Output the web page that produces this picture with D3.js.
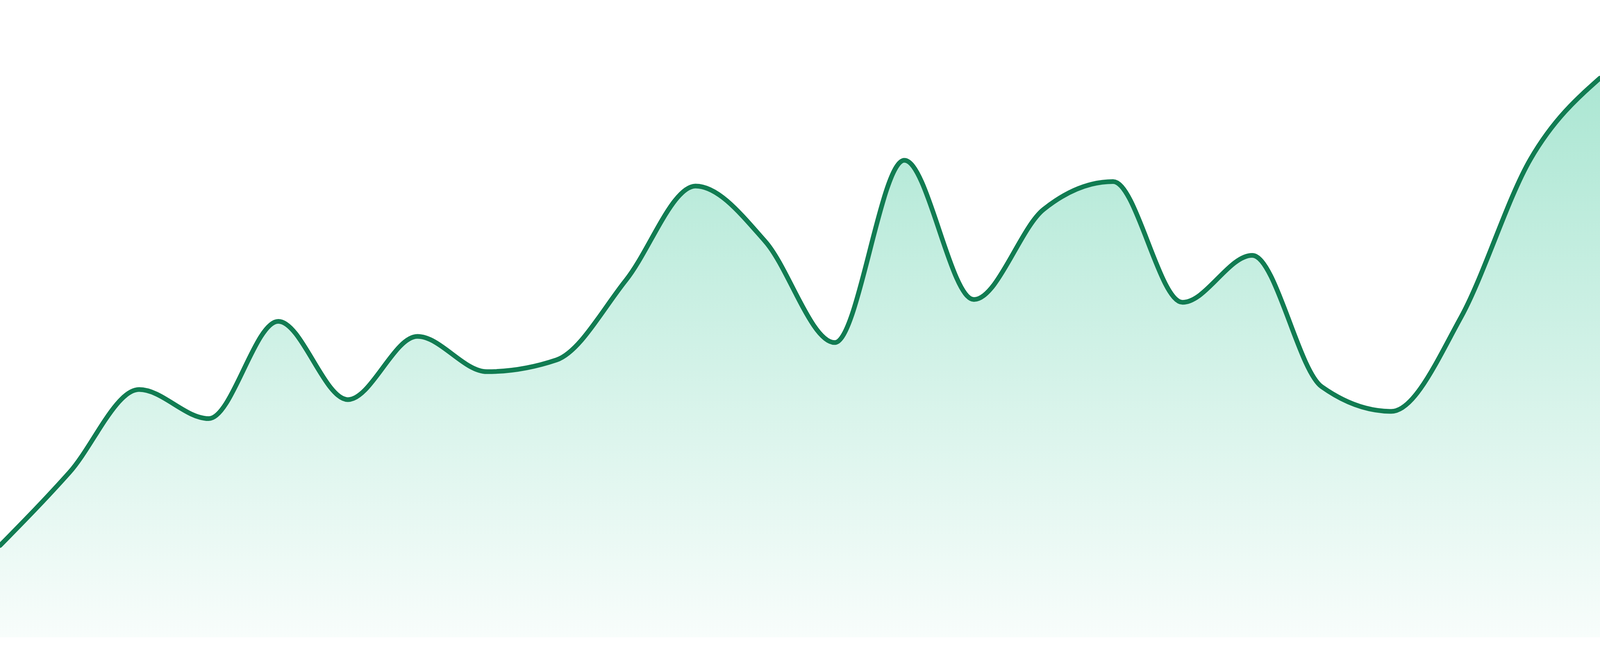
<!DOCTYPE html>
<html>
<head>
<meta charset="utf-8">
<script src="https://cdn.jsdelivr.net/npm/d3@7"></script>
<style>
  html, body { margin: 0; padding: 0; background: #ffffff; overflow: hidden; width: 100%; height: 100%; }
  svg { display: block; }
</style>
</head>
<body>
<div id="chart"></div>
<script>
// ---- data ----
const categories = [1, 2, 3, 4, 5, 6, 7, 8, 9, 10, 11, 12, 13, 14, 15, 16, 17, 18, 19, 20, 21, 22, 23, 24];
const values = [16.4, 29.5, 44.3, 39.1, 56.5, 42.5, 53.8, 47.5, 49.6, 63.9, 80.7, 70.8,
                52.7, 85.3, 60.4, 76.5, 81.5, 59.9, 68.3, 44.8, 40.4, 57.2, 85.5, 100];
const yDomain = [0, 100];

// ---- layout: fill the browser viewport ----
const width = window.innerWidth || 4800;
const height = window.innerHeight || 1680;
const margin = { top: height * 200 / 1680, right: 0, bottom: height * 48 / 1680, left: 0 };

const data = categories.map((c, i) => ({ c, v: values[i] }));

const x = d3.scalePoint()
  .domain(categories)
  .range([margin.left, width - margin.right]);

const y = d3.scaleLinear()
  .domain(yDomain)
  .range([height - margin.bottom, margin.top]);

const svg = d3.select("#chart").append("svg")
  .attr("width", width)
  .attr("height", height);

const defs = svg.append("defs");
const grad = defs.append("linearGradient")
  .attr("id", "areaGrad")
  .attr("gradientUnits", "userSpaceOnUse")
  .attr("x1", 0).attr("x2", 0)
  .attr("y1", y(yDomain[1])).attr("y2", y(0));
grad.append("stop").attr("offset", "0%").attr("stop-color", "#10b981").attr("stop-opacity", 0.35);
grad.append("stop").attr("offset", "100%").attr("stop-color", "#10b981").attr("stop-opacity", 0.03);

const area = d3.area()
  .x(d => x(d.c))
  .y0(y(0))
  .y1(d => y(d.v))
  .curve(d3.curveMonotoneX);

const line = d3.line()
  .x(d => x(d.c))
  .y(d => y(d.v))
  .curve(d3.curveMonotoneX);

svg.append("path")
  .datum(data)
  .attr("d", area)
  .attr("fill", "url(#areaGrad)");

svg.append("path")
  .datum(data)
  .attr("d", line)
  .attr("fill", "none")
  .attr("stroke", "#117c52")
  .attr("stroke-width", 12)
  .attr("stroke-linejoin", "round")
  .attr("stroke-linecap", "round");
</script>
</body>
</html>
